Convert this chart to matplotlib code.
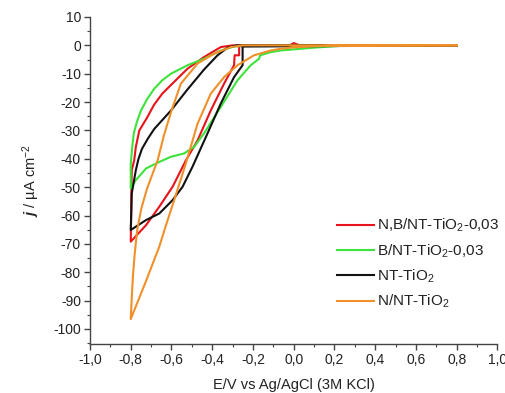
import matplotlib
matplotlib.use("Agg")
import matplotlib.pyplot as plt
from matplotlib.ticker import MultipleLocator, FuncFormatter

plt.rcParams['font.family'] = ['Liberation Sans', 'DejaVu Sans']
plt.rcParams['mathtext.fontset'] = 'custom'
plt.rcParams['mathtext.rm'] = 'Liberation Sans'
plt.rcParams['mathtext.it'] = 'Liberation Sans:italic'
plt.rcParams['mathtext.bf'] = 'Liberation Sans:italic:bold'

# ---- data (E in V, j in uA cm^-2), closed CV loops ----
nb_E = [0.8, 0.03, 0.0, -0.02, -0.268, -0.268, -0.29, -0.293, -0.342, -0.407, -0.472, -0.529,
        -0.595, -0.66, -0.725, -0.8, -0.798, -0.797, -0.795, -0.783, -0.775, -0.758, -0.72,
        -0.686, -0.645, -0.603, -0.521, -0.44, -0.358, -0.3, 0.8]
nb_j = [0.0, 0.0, 0.8, 0.0, -0.3, -3.5, -3.5, -7.0, -13.5, -22.9, -33.5, -40.5,
        -49.9, -56.9, -63.4, -69.2, -60.0, -52.0, -44.0, -40.5, -35.8, -30.0, -25.5,
        -21.0, -17.0, -14.0, -8.2, -4.1, -0.6, 0.0, 0.0]

b_E = [0.8, 0.27, 0.1, -0.064, -0.113, -0.165, -0.17, -0.211, -0.276, -0.358, -0.44, -0.489,
       -0.538, -0.603, -0.66, -0.725, -0.775, -0.8, -0.8, -0.793, -0.785, -0.77, -0.75, -0.72,
       -0.685, -0.645, -0.603, -0.521, -0.44, -0.358, -0.293, -0.2, 0.8]
b_j = [0.0, 0.0, -0.8, -1.8, -2.4, -3.5, -4.7, -7.0, -12.3, -21.7, -31.0, -35.8,
       -38.1, -39.3, -41.1, -43.4, -47.5, -50.5, -42.0, -36.0, -31.0, -27.0, -23.0, -19.0,
       -15.3, -12.3, -10.0, -7.0, -4.7, -1.8, -0.4, 0.0, 0.0]

nt_E = [0.8, -0.2, -0.251, -0.251, -0.293, -0.358, -0.423, -0.497, -0.546, -0.595, -0.66,
        -0.725, -0.8, -0.797, -0.795, -0.775, -0.762, -0.745, -0.717, -0.685, -0.603, -0.521,
        -0.44, -0.374, -0.325, -0.28, 0.8]
nt_j = [0.0, -0.4, -0.4, -7.0, -11.2, -20.5, -31.0, -42.8, -49.9, -54.6, -59.3,
        -61.6, -65.1, -58.0, -52.2, -44.0, -40.0, -36.5, -33.0, -29.5, -23.0, -15.5,
        -8.5, -3.5, -0.8, 0.0, 0.0]

n_E = [0.8, 0.2, 0.1, 0.0, -0.064, -0.113, -0.195, -0.276, -0.342, -0.407, -0.472, -0.529,
       -0.587, -0.627, -0.66, -0.73, -0.8, -0.795, -0.789, -0.78, -0.768, -0.748, -0.72, -0.668,
       -0.637, -0.6, -0.554, -0.472, -0.39, -0.309, -0.25, 0.8]
n_j = [0.0, -0.1, -0.3, -0.7, -1.2, -1.8, -3.5, -7.0, -11.2, -17.0, -27.6, -41.5,
       -54.6, -63.4, -71.0, -84.0, -96.5, -89.0, -81.0, -73.0, -65.0, -57.5, -50.5, -40.5,
       -31.7, -23.0, -13.5, -6.4, -2.9, -0.6, 0.0, 0.0]

labels = [r'N,B/NT-TiO$_2$-0,03', r'B/NT-TiO$_2$-0,03', r'NT-TiO$_2$', r'N/NT-TiO$_2$']
colors = ['#e8131b', '#3de23a', '#111111', '#f0902a']
xticks = [-1.0, -0.8, -0.6, -0.4, -0.2, 0.0, 0.2, 0.4, 0.6, 0.8, 1.0]
yticks = [10, 0, -10, -20, -30, -40, -50, -60, -70, -80, -90, -100]

fig = plt.figure(figsize=(5.06, 3.93), dpi=100)
ax = fig.add_axes([90/506, 1-344/393, (497.5-90)/506, (344-17)/393])

series = [(nb_E, nb_j), (b_E, b_j), (nt_E, nt_j), (n_E, n_j)]
for (E, j), c, lab in zip(series, colors, labels):
    ax.plot(E, j, color=c, lw=1.5, label=lab, solid_joinstyle='round')

ax.set_xlim(-1.0, 1.0)
ax.set_ylim(-105.3, 10)
ax.spines['top'].set_visible(False)
ax.spines['right'].set_visible(False)
for s in ('left', 'bottom'):
    ax.spines[s].set_color('#444444')
    ax.spines[s].set_linewidth(1.0)

ax.set_xticks(xticks)
ax.set_yticks(yticks)
ax.xaxis.set_minor_locator(MultipleLocator(0.1))
ax.yaxis.set_minor_locator(MultipleLocator(5))
ax.xaxis.set_major_formatter(FuncFormatter(lambda v, p: f"{v:.1f}".replace('.', ',').replace('-0,0', '0,0')))
ax.yaxis.set_major_formatter(FuncFormatter(lambda v, p: f"{int(round(v))}"))
ax.tick_params(which='both', direction='out', color='#444444', labelsize=10, labelcolor='#222222')
ax.tick_params(which='major', length=4, width=1.0, pad=2.5)
ax.tick_params(which='minor', length=2.5, width=0.8)

ax.set_xlabel('E/V vs Ag/AgCl (3M KCl)', fontsize=10.5, color='#222222', labelpad=8)
ax.set_ylabel(r'$\mathbf{j}$ / µA cm$^{-2}$', fontsize=10.5, color='#222222', labelpad=8)

leg = ax.legend(loc='upper left', bbox_to_anchor=(337/506, 1-217/393), bbox_transform=fig.transFigure,
                frameon=False, fontsize=11, handlelength=2.4, handletextpad=0.2,
                labelspacing=0.52, borderpad=0, borderaxespad=0)
for t in leg.get_texts():
    t.set_color('#222222')

fig.savefig('out.png', dpi=100)
